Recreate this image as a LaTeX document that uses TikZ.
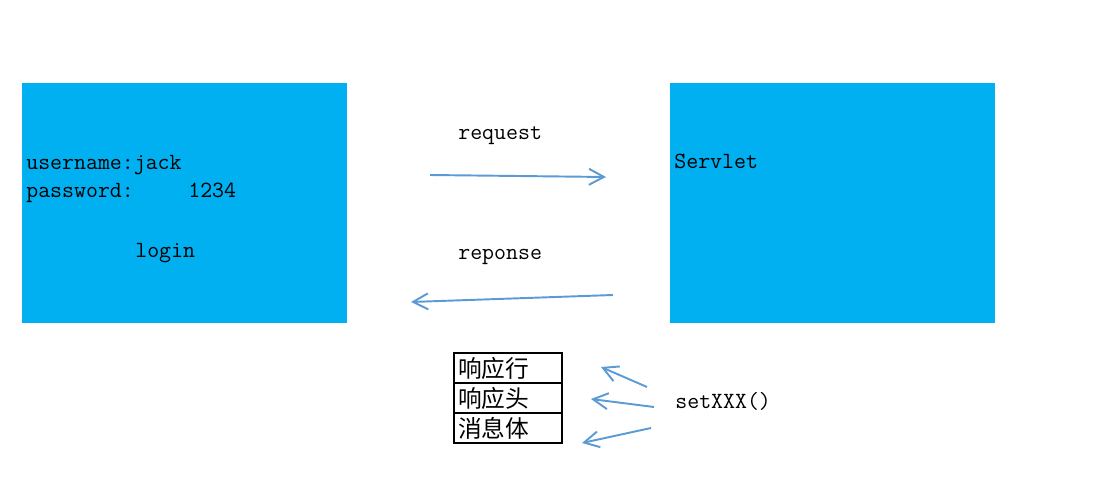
\documentclass[tikz,border=0pt]{standalone}
\usepackage{fontspec}
\newfontfamily\cjk{Noto Sans CJK SC}
\usepackage{xcolor}
\usetikzlibrary{arrows.meta, positioning}
\definecolor{boxblue}{HTML}{00B0F0}
\definecolor{arrowblue}{HTML}{5B9BD5}
\tikzset{
    panel/.style={
        fill=boxblue,
        draw=none,
        minimum width=6.49cm,
        minimum height=4.8cm,
        anchor=north west,
        inner sep=0pt,
    },
    txt/.style={
        font=\ttfamily\fontsize{13.2pt}{15pt}\selectfont,
        inner sep=0pt,
        anchor=mid west,
    },
    cell/.style={
        draw=black,
        line width=0.6pt,
        minimum height=0.6cm,
        text width=2.0cm,
        inner xsep=0.08cm,
        inner ysep=0pt,
        outer sep=0pt,
        align=left,
        font=\cjk\fontsize{13.5pt}{15pt}\selectfont,
    },
    flow/.style={
        arrowblue,
        line width=1.1pt,
        -{Straight Barb[length=0.3cm,width=0.32cm]},
    },
}

\begin{document}
\begin{tikzpicture}[x=0.02cm, y=-0.02cm]
      \useasboundingbox (0,0) rectangle (1114,493);

      \node[panel] (client) at (22,83) {};
      \node[panel] (server) at (670,83) {};

      \node[txt] (user) at (26,166) {username:jack};
      \node[txt] (pass) at (26,194) {password:};
      \node[txt] (pin) at (188,194) {1234};
      \node[txt] (login) at (135,254) {login};
      \node[txt] (servlet) at (674,165) {Servlet};

      \node[txt] (reqlabel) at (458,136) {request};
      \node[txt] (replabel) at (458,256) {reponse};

      \coordinate (req-from) at (430,175);
      \coordinate (req-to) at (606,177);
      \coordinate (rep-from) at (613,295);
      \coordinate (rep-to) at (411,302);
      \draw[flow] (req-from) -- (req-to);
      \draw[flow] (rep-from) -- (rep-to);

      \node[cell, anchor=north west] (line) at (454,353) {响应行};
      \node[cell, below=0pt of line] (head) {响应头};
      \node[cell, below=0pt of head] (body) {消息体};

      \node[txt] (setter) at (675,405) {setXXX()};

      \coordinate (set-a) at (647,387);
      \coordinate (set-b) at (654,407);
      \coordinate (set-c) at (651,428);
      \coordinate (to-line) at (601,367);
      \coordinate (to-head) at (591,399);
      \coordinate (to-body) at (582,443);
      \draw[flow] (set-a) -- (to-line);
      \draw[flow] (set-b) -- (to-head);
      \draw[flow] (set-c) -- (to-body);
    \end{tikzpicture}
\end{document}
